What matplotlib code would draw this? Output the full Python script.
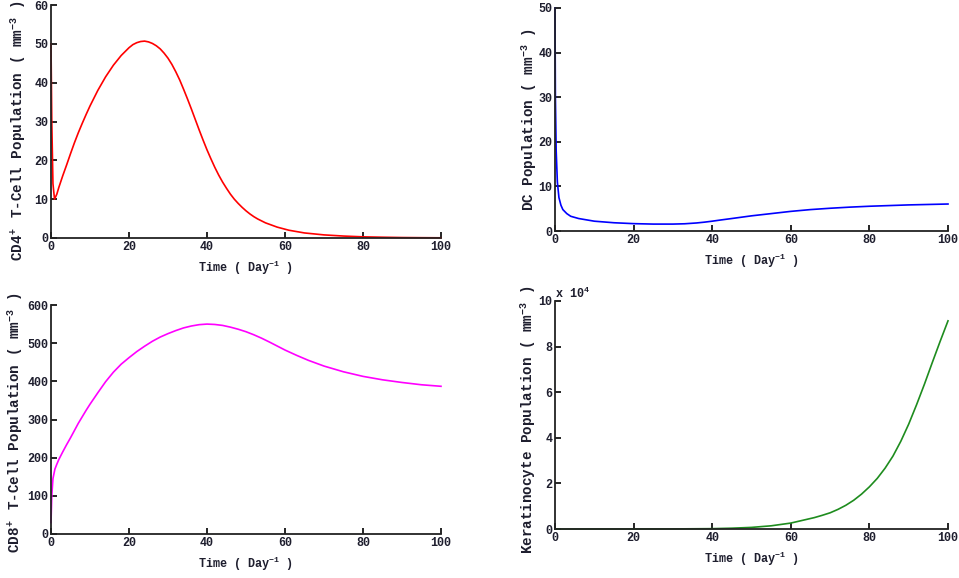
import matplotlib
matplotlib.use("Agg")
import matplotlib.pyplot as plt

plt.rcParams['font.family'] = ['Liberation Mono', 'DejaVu Sans Mono']
plt.rcParams['font.weight'] = 'bold'
plt.rcParams['mathtext.fontset'] = 'custom'
plt.rcParams['mathtext.rm'] = 'Liberation Mono:bold'
plt.rcParams['mathtext.it'] = 'Liberation Mono:bold'
plt.rcParams['mathtext.bf'] = 'Liberation Mono:bold'
plt.rcParams['mathtext.default'] = 'regular'

# ---- data ----
t_cd4 = [0, 0.2, 0.5, 0.9, 1.5, 2, 3, 4, 5, 6, 7, 8, 9, 10, 12, 14, 16, 18, 20, 21, 22, 23, 24,
         25, 26, 27, 28, 29, 30, 31, 32, 33, 34, 35, 36, 37, 38, 39, 40, 41, 42, 43, 44, 45,
         46, 47, 48, 49, 50, 51, 52, 53, 55, 58, 61, 65, 70, 75, 80, 85, 90, 95, 100]
cd4 = [50, 30, 14, 10, 11.3, 13, 16, 18.8, 21.7, 24.5, 27.1, 29.5, 31.8, 34, 38, 41.5, 44.5,
       47, 49, 49.8, 50.3, 50.6, 50.7, 50.5, 50.1, 49.5, 48.7, 47.6, 46.3, 44.7, 42.8, 40.7,
       38.3, 35.8, 33.2, 30.5, 27.8, 25.2, 22.7, 20.4, 18.2, 16.2, 14.4, 12.8, 11.3, 10.0,
       8.9, 7.9, 7.0, 6.2, 5.5, 4.9, 3.9, 2.8, 2.0, 1.3, 0.8, 0.5, 0.3, 0.2, 0.12, 0.08, 0.05]

t_dc = [0, 0.1, 0.3, 0.6, 1, 1.5, 2, 3, 4, 6, 8, 10, 15, 20, 25, 30, 33, 36, 38, 40, 42,
        45, 50, 55, 60, 65, 70, 75, 80, 85, 90, 95, 100]
dc = [50, 30, 18, 11, 7.5, 5.8, 4.8, 3.9, 3.3, 2.8, 2.5, 2.2, 1.85, 1.65, 1.55, 1.55, 1.62,
      1.8, 1.98, 2.2, 2.45, 2.8, 3.4, 3.9, 4.4, 4.8, 5.1, 5.35, 5.55, 5.7, 5.85, 5.95, 6.05]

t_cd8 = [0, 0.2, 0.5, 1, 1.5, 2, 3, 4, 5, 6, 7, 8, 9, 10, 12, 14, 16, 18, 20, 22, 24, 26, 28,
         30, 32, 34, 36, 38, 40, 42, 44, 46, 48, 50, 52, 54, 56, 58, 60, 63, 66, 70, 75, 80,
         85, 90, 95, 100]
cd8 = [30, 100, 145, 170, 183, 195, 215, 234, 252, 271, 290, 307, 324, 340, 370, 399, 424,
       445, 462, 478, 492, 505, 516, 525, 533, 540, 545, 548.5, 550, 549, 546.5, 542, 536.5,
       530, 522, 513, 503, 492.5, 482, 468, 455, 440, 425, 413, 404, 397, 391, 387]

t_ker = [0, 10, 20, 30, 40, 45, 50, 55, 60, 62, 64, 66, 68, 70, 72, 74, 76, 78, 80, 82, 84,
         86, 88, 90, 92, 94, 96, 98, 100]
ker = [0, 10, 20, 40, 150, 350, 700, 1400, 2600, 3400, 4200, 5000, 6000, 7100, 8600, 10400,
       12600, 15300, 18500, 22200, 26700, 32000, 38500, 46000, 54500, 63500, 73000, 82300,
       91300]

xticks = [0, 20, 40, 60, 80, 100]
xlabel = r'Time ( Day$^{-1}$ )'

W, H = 959, 578
fig = plt.figure(figsize=(W / 100, H / 100), dpi=100)


def mk(l, t, r, b):
    return fig.add_axes([l / W, 1 - b / H, (r - l) / W, (b - t) / H])


def style(ax, yticks, ylim, ylabel, ylab_px, ylab_y):
    ax.set_xlim(0, 100)
    ax.set_ylim(*ylim)
    ax.set_xticks(xticks)
    ax.set_yticks(yticks)
    for s in ['top', 'right']:
        ax.spines[s].set_visible(False)
    for s in ['left', 'bottom']:
        ax.spines[s].set_linewidth(1.3)
        ax.spines[s].set_color('#222222')
    ax.tick_params(direction='in', length=4, width=1.2, labelsize=8.5,
                   labelcolor='#1e1e2e', pad=2)
    ax.set_xlabel(xlabel, fontsize=8.5, fontweight='bold', labelpad=4, color='#1e1e2e')
    ax.set_ylabel(ylabel, fontsize=10.3, fontweight='bold', color='#1e1e2e')
    bb = ax.get_position()
    ax.yaxis.set_label_coords(-ylab_px / (bb.width * W), ylab_y)


ax1 = mk(51, 5, 441, 238)
ax1.plot(t_cd4, cd4, color='#ff0000', lw=1.2, clip_on=False)
style(ax1, [0, 10, 20, 30, 40, 50, 60], (0, 60),
      r'CD4$^+$ T-Cell Population ( mm$^{-3}$ )', 23, 0.46)

ax2 = mk(555, 8, 948, 231)
ax2.plot(t_dc, dc, color='#0000ff', lw=1.2, clip_on=False)
style(ax2, [0, 10, 20, 30, 40, 50], (0, 50), r'DC Population ( mm$^{-3}$ )', 16, 0.5)

ax3 = mk(51, 305, 441, 534)
ax3.plot(t_cd8, cd8, color='#ff00ff', lw=1.2, clip_on=False)
style(ax3, [0, 100, 200, 300, 400, 500, 600], (0, 600),
      r'CD8$^+$ T-Cell Population ( mm$^{-3}$ )', 26, 0.485)

ax4 = mk(555, 301, 948, 529)
ax4.plot(t_ker, [v / 1e4 for v in ker], color='#1e8c1e', lw=1.2, clip_on=False)
style(ax4, [0, 2, 4, 6, 8, 10], (0, 10), r'Keratinocyte Population ( mm$^{-3}$ )', 17, 0.48)
ax4.text(0.0, 1.0, r'x 10$^4$', transform=ax4.transAxes, fontsize=8.5, fontweight='bold',
         color='#1e1e2e', va='bottom', ha='left')

fig.savefig('out.png', dpi=100)
